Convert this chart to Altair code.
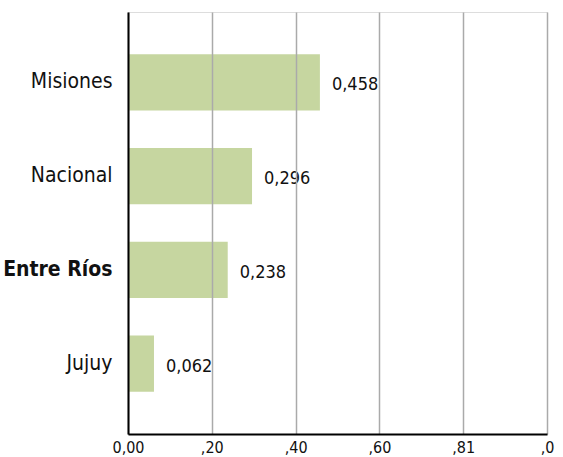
import json
import altair as alt
import pandas as pd

categories = ["Misiones", "Nacional", "Entre Ríos", "Jujuy"]
values = [0.458, 0.296, 0.238, 0.062]
highlight = ["Entre Ríos"]
tick_values = [0.0, 0.2, 0.4, 0.6, 0.8, 1.0]
tick_labels = ["0,00", ",20", ",40", ",60", ",81", ",0"]

df = pd.DataFrame({"cat": categories, "val": values})

FONT = "Liberation Sans Narrow, DejaVu Sans Condensed, sans-serif"

label_expr = json.dumps(tick_labels) + "[round(datum.value*5)]"
bold_expr = "indexof(" + json.dumps(highlight) + ", datum.value) >= 0 ? 'bold' : 'normal'"

y_enc = alt.Y(
    "cat:N", sort=categories, title=None,
    scale=alt.Scale(paddingInner=0.4, paddingOuter=0.45),
    axis=alt.Axis(labelFont=FONT, labelFontSize=21, labelColor="#111", ticks=False,
                  labelPadding=16, domainColor="#000", domainWidth=2,
                  labelFontWeight=alt.expr(bold_expr), zindex=1),
)
x_enc = alt.X(
    "val:Q", title=None,
    scale=alt.Scale(domain=[0, 1], nice=False),
    axis=alt.Axis(values=tick_values, labelExpr=label_expr, labelFont=FONT,
                  labelFontSize=16, labelColor="#111", ticks=False, labelPadding=5,
                  domainColor="#000", domainWidth=2, gridColor="#aaaaaa",
                  gridWidth=1.5, gridOpacity=1, zindex=1, labelFlush=False),
)

bars = alt.Chart(df).mark_bar(color="#c6d6a0").encode(x=x_enc, y=y_enc)
texts = alt.Chart(df).transform_calculate(
    lbl="replace(format(datum.val, '.3f'), '.', ',')"
).mark_text(align="left", baseline="middle", dx=12, dy=3, font=FONT, fontSize=18,
            color="#111").encode(
    x=alt.X("val:Q"), y=alt.Y("cat:N", sort=categories), text="lbl:N")

chart = alt.layer(bars, texts).properties(
    width=419, height=422,
    autosize=alt.AutoSizeParams(type="none"),
    padding={"left": 128, "top": 12, "right": 16, "bottom": 23},
).configure_view(stroke=None).configure(background="white")

chart.save("out.html", embed_options={"renderer": "svg", "actions": False})
